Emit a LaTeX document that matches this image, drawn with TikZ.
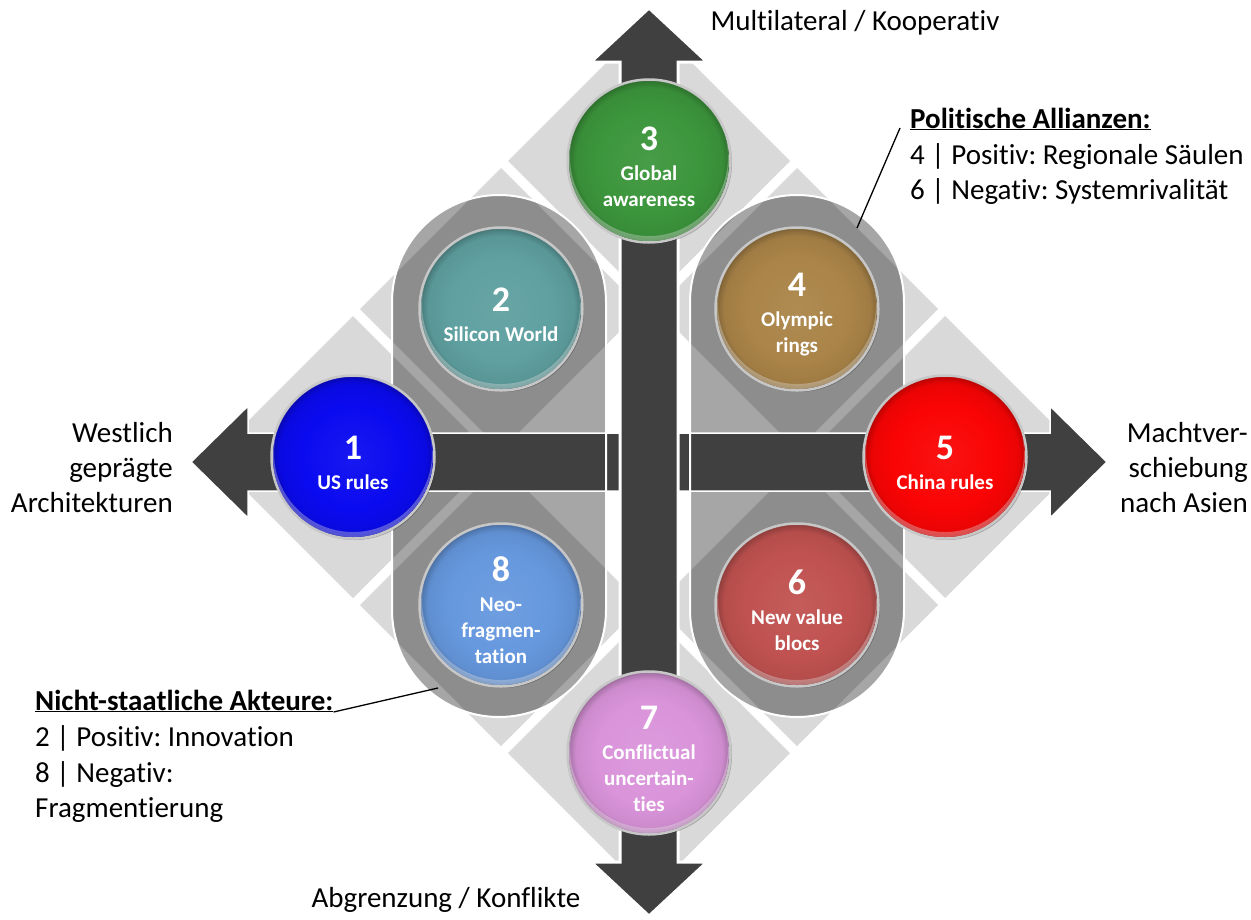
\documentclass[tikz,border=0pt]{standalone}
\usepackage{fontspec}
\setmainfont{Carlito}[Ligatures=NoCommon]
\frenchspacing
\definecolor{diagray}{HTML}{D9D9D9}
\definecolor{arrowgray}{HTML}{404040}
\definecolor{cOne}{RGB}{10,10,240}
\definecolor{cTwo}{RGB}{95,160,160}
\definecolor{cThree}{RGB}{60,150,60}
\definecolor{cFour}{RGB}{170,132,72}
\definecolor{cFive}{RGB}{250,4,4}
\definecolor{cSix}{RGB}{192,82,80}
\definecolor{cSeven}{RGB}{218,148,218}
\definecolor{cEight}{RGB}{102,152,222}
\colorlet{btncol}{cOne}
\pgfdeclareradialshading[btncol]{btnshade}{\pgfpoint{0bp}{0bp}}{color(0bp)=(btncol!94!white); color(16bp)=(btncol); color(22.5bp)=(btncol!94!black); color(24.4bp)=(btncol!78!black); color(25bp)=(btncol!65!black); color(50bp)=(btncol!65!black)}
\newcommand\bnum[1]{{\fontsize{36}{36}\selectfont\rule{0pt}{35pt}#1}}
\tikzset{
  btn/.style={circle, minimum size=163pt, inner sep=0pt, draw=black!22, line width=2.5pt,
    text=white, align=center, font=\bfseries\fontsize{21}{26}\selectfont,
    /utils/exec={\colorlet{btncol}{#1}}, shading=btnshade,
    preaction={fill=black, opacity=.25, transform canvas={xshift=1.5pt, yshift=-1.5pt}}},
  axislbl/.style={font=\fontsize{29}{35}\selectfont, inner sep=0pt},
  note/.style={font=\fontsize{29}{35}\selectfont, inner sep=0pt, anchor=base west},
  notehead/.style={note, font=\bfseries\fontsize{29}{35}\selectfont},
  connector/.style={black, line width=1.3pt},
  arrowbody/.style={fill=arrowgray, draw=white},
  pill/.style={rounded corners=107pt},
}
\begin{document}
\begin{tikzpicture}[x=1pt, y=-1pt]
\useasboundingbox (0,0) rectangle (1251,919);
\fill[white] (0,0) rectangle (1251,919);

% light grey diamond tiles
\foreach \x/\y in {649/161, 501/309, 797/309, 353/457, 945/457, 501/605, 797/605, 649/753}
  \fill[diagray] (\x,\y-141) -- (\x+141,\y) -- (\x,\y+141) -- (\x-141,\y) -- cycle;

% translucent pills
\fill[black, opacity=.35, pill] (392,195) rectangle (606,717);
\fill[black, opacity=.35, pill] (690,195) rectangle (904,717);

% horizontal arrow
\path[arrowbody, line width=1.5pt] (191,462) -- (248,406) -- (248,433) -- (1050,433) -- (1050,406)
  -- (1107,462) -- (1050,518) -- (1050,491) -- (248,491) -- (248,518) -- cycle;

% pill outlines
\draw[white, line width=2pt, pill] (392,195) rectangle (606,717);
\draw[white, line width=2pt, pill] (690,195) rectangle (904,717);

% vertical arrow
\path[arrowbody, line width=3pt] (649,8) -- (707,62) -- (678,62) -- (678,862) -- (707,862)
  -- (649,916) -- (591,862) -- (620,862) -- (620,62) -- (591,62) -- cycle;

% buttons
\node[btn=cOne]   (c1) at (353,457) {\bnum{1}\\[4pt]US rules};
\node[btn=cTwo]   (c2) at (501,309) {\bnum{2}\\[4pt]Silicon World};
\node[btn=cThree] (c3) at (649,161) {\bnum{3}\\[4pt]Global\\awareness};
\node[btn=cFour]  (c4) at (797,309) {\bnum{4}\\[4pt]Olympic\\rings};
\node[btn=cFive]  (c5) at (945,457) {\bnum{5}\\[4pt]China rules};
\node[btn=cSix]   (c6) at (797,605) {\bnum{6}\\[4pt]New value\\blocs};
\node[btn=cSeven] (c7) at (649,753) {\bnum{7}\\[4pt]Conflictual\\uncertain-\\ties};
\node[btn=cEight] (c8) at (501,605) {\bnum{8}\\[4pt]Neo-\\fragmen-\\tation};

% bottom highlight of the buttons
\foreach \n in {c1,c2,c3,c4,c5,c6,c7,c8}{
  \begin{scope}
    \clip (\n.center) circle (80pt);
    \fill[white, opacity=.3, even odd rule] (\n.center) circle (80pt) ([yshift=4pt]\n.center) circle (79pt);
  \end{scope}
}

% axis labels
\node[axislbl, anchor=base] (ltop) at (855,30) {Multilateral / Kooperativ};
\node[axislbl, anchor=base] (lbot) at (446,907) {Abgrenzung / Konflikte};
\node[axislbl, align=right, anchor=east] (lleft) at (173,468) {Westlich\\geprägte\\Architekturen};
\node[axislbl, align=right, anchor=east] (lright) at (1248,468) {Machtver-\\schiebung\\nach Asien};

% notes
\node[notehead] (polt) at (910,128) {\underline{Politische Allianzen:}};
\node[note] (pol1) at (910,164) {4 | Positiv: Regionale Säulen};
\node[note] (pol2) at (910,199) {6 | Negativ: Systemrivalität};
\coordinate (polB) at (857,228);
\draw[connector] ([xshift=-10pt]polt.base west) -- (polB);

\node[notehead] (nst) at (35,710) {\underline{Nicht-staatliche Akteure:}};
\node[note] (nst1) at (35,746) {2 | Positiv: Innovation};
\node[note] (nst2) at (35,782) {8 | Negativ:};
\node[note] (nst3) at (35,817) {Fragmentierung};
\coordinate (nstB) at (438,688);
\draw[connector] ([yshift=-2pt]nst.base east) -- (nstB);
\end{tikzpicture}
\end{document}
